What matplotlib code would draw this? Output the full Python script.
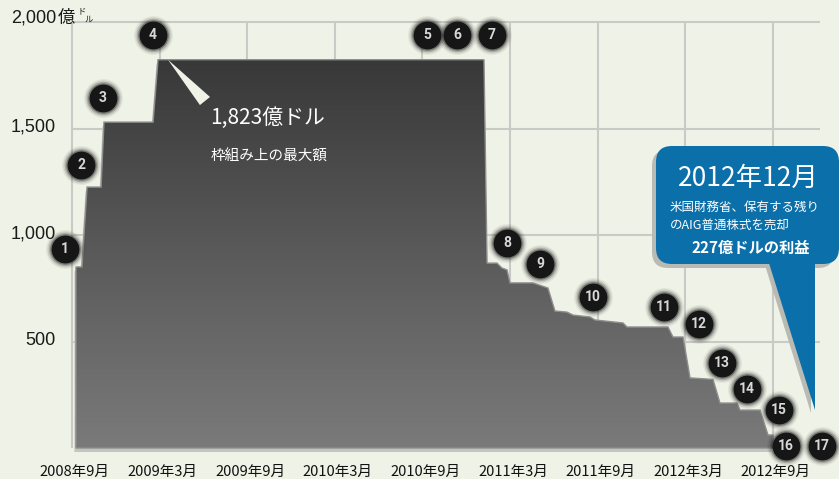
import numpy as np
import matplotlib
matplotlib.use('Agg')
import matplotlib.pyplot as plt
from matplotlib.patches import Polygon, FancyBboxPatch
from matplotlib.colors import LinearSegmentedColormap
import matplotlib.transforms as mtransforms

# ---------------- data (months since Sep 2008, values in 億ドル) ----------------
outline_months = [0.27, 0.27, 0.68, 1.03, 1.99, 2.19, 5.55, 5.89, 28.21, 28.42,
                  29.10, 29.44, 29.79, 29.99, 31.57, 32.59, 33.07, 33.89, 34.31,
                  35.47, 35.81, 37.73, 38.00, 40.81, 41.15, 41.84, 42.32, 43.89,
                  44.37, 45.54, 45.74, 47.11, 47.66, 48.00, 48.00]
outline_values = [0, 850, 850, 1225, 1225, 1530, 1530, 1823, 1823, 868,
                  868, 845, 836, 775, 775, 751, 643, 638, 624,
                  615, 601, 587, 568, 568, 521, 521, 329, 322,
                  211, 211, 178, 178, 61, 61, 0]
tick_months = [0, 6, 12, 18, 24, 30, 36, 42, 48]
tick_labels = ['2008年9月', '2009年3月', '2009年9月', '2010年3月', '2010年9月',
               '2011年3月', '2011年9月', '2012年3月', '2012年9月']
y_ticks = [500, 1000, 1500, 2000]
y_tick_labels = ['500', '1,000', '1,500', '2,000']
event_labels = [str(i) for i in range(1, 18)]
event_months = [-0.50, 0.62, 2.12, 5.54, 24.31, 26.36, 28.76, 29.78, 32.05,
                35.68, 40.54, 42.93, 44.51, 46.22, 48.41, 48.89, 51.36]
event_values = [934, 1329, 1643, 1939, 1939, 1939, 1939, 962, 864,
                709, 662, 582, 399, 277, 178, 10, 10]
peak_value = 1823

W, H = 839, 479
BG = '#eff2e6'
GRID = '#c9cac6'
BLUE = '#0b6fa9'
JP = ['Noto Sans CJK JP', 'DejaVu Sans']
NUM = ['Liberation Sans', 'Noto Sans CJK JP']

fig = plt.figure(figsize=(W / 100, H / 100), dpi=100, facecolor=BG)
ax = fig.add_axes([0, 0, 1, 1])
ax.set_facecolor(BG)
ppm = (773 - 72) / 48.0      # pixels per month
ppu = 0.213                   # pixels per 億ドル
ax.set_xlim(-72 / ppm, (W - 72) / ppm)
ax.set_ylim(-(H - 448) / ppu, 448 / ppu)
ax.axis('off')

# grid
for m in tick_months:
    ax.plot([m, m], [0, 2000], color=GRID, lw=1.5, zorder=1, solid_capstyle='butt')
for v in y_ticks:
    ax.plot([0, 51.2], [v, v], color=GRID, lw=1.5, zorder=1, solid_capstyle='butt')

# area shadow
pts = np.column_stack([outline_months, outline_values])
shadow_tr = mtransforms.offset_copy(ax.transData, fig=fig, x=-1.5, y=-4, units='dots')
ax.add_patch(Polygon(pts, closed=True, facecolor='#c4c5c0', edgecolor='none',
                     transform=shadow_tr, zorder=2))
# gradient area
poly = Polygon(pts, closed=True, facecolor='none', edgecolor='#8e8e8e', lw=1.0, zorder=4)
ax.add_patch(poly)
cmap = LinearSegmentedColormap.from_list('g', ['#7a7a7a', '#5a5a5a', '#383838'])
grad = np.linspace(0, 1, 256).reshape(-1, 1)
im = ax.imshow(grad, extent=[min(outline_months), max(outline_months), 0, peak_value],
               origin='lower', cmap=cmap, aspect='auto', zorder=3)
im.set_clip_path(poly)
ax.set_xlim(-72 / ppm, (W - 72) / ppm)
ax.set_ylim(-(H - 448) / ppu, 448 / ppu)

# wedge from the peak
ax.add_patch(Polygon([(6.57, peak_value), (9.45, 1648), (8.76, 1610)], closed=True,
                     facecolor=BG, edgecolor='none', zorder=5))
ax.text(9.45, 1549, '1,823億ドル', fontsize=15, color='white', family=JP,
        ha='left', va='center', zorder=6)
ax.text(9.50, 1366, '枠組み上の最大額', fontsize=10.5, color='white', family=JP,
        ha='left', va='center', zorder=6)

# y labels
xl = -1.1
for v, lab in zip(y_ticks, y_tick_labels):
    yy = v + (18 if v == 2000 else 5)
    ax.text(xl, yy, lab, fontsize=13, color='#1a1a1a', family=NUM,
            ha='right', va='center')
ax.text(-1.0, 2018, '億', fontsize=12.5, color='#1a1a1a', family=JP,
        ha='left', va='center')
ax.text(0.40, 2052, 'ド', fontsize=6, color='#1a1a1a', family=JP, ha='left', va='center')
ax.text(0.88, 2012, 'ル', fontsize=6, color='#1a1a1a', family=JP, ha='left', va='center')

# x labels
for m, lab in zip(tick_months, tick_labels):
    ax.text(m + 0.2, -113, lab, fontsize=10.5, color='#111111', family=JP,
            ha='center', va='center')

# event markers
for m, v, lab in zip(event_months, event_values, event_labels):
    for s, a in [(28, 0.06), (26, 0.1), (24, 0.18), (22, 0.35)]:
        ax.plot(m, v, 'o', ms=s, color='#111111', alpha=a, mec='none', zorder=7)
    ax.plot(m, v, 'o', ms=20, color='#161616', mec='none', zorder=8)
    ax.text(m, v, lab, fontsize=10, color='#d8d8d8', fontweight='bold',
            family=['Roboto', 'DejaVu Sans'], ha='center', va='center', zorder=9)

# callout bubble (pixel coordinates, origin at top-left)
T = mtransforms.Affine2D().scale(1 / W, -1 / H).translate(0, 1) + fig.transFigure
SH = '#b9bab4'
fig.add_artist(FancyBboxPatch((652, 150), 182, 118,
                              boxstyle='round,pad=0,rounding_size=16',
                              facecolor=SH, edgecolor='none', transform=T, zorder=10))
fig.add_artist(Polygon([(764, 262), (811, 262), (811, 413)], closed=True,
                       facecolor=SH, edgecolor='none', transform=T, zorder=10))
fig.add_artist(FancyBboxPatch((656, 146), 183, 118,
                              boxstyle='round,pad=0,rounding_size=16',
                              facecolor=BLUE, edgecolor='none', transform=T, zorder=11))
fig.add_artist(Polygon([(768, 260), (815, 260), (815, 410)], closed=True,
                       facecolor=BLUE, edgecolor='none', transform=T, zorder=11))
fig.text(748 / W, 1 - 178 / H, '2012年12月', fontsize=19, color='white', family=JP,
         ha='center', va='center', zorder=12)
fig.text(670 / W, 1 - 207 / H, '米国財務省、保有する残り', fontsize=9, color='white',
         family=JP, ha='left', va='center', zorder=12)
fig.text(670 / W, 1 - 225 / H, 'のAIG普通株式を売却', fontsize=9, color='white',
         family=JP, ha='left', va='center', zorder=12)
fig.text(751 / W, 1 - 248 / H, '227億ドルの利益', fontsize=11, color='white',
         family=JP, fontweight='bold', ha='center', va='center', zorder=12)

fig.savefig('out.png', dpi=100, facecolor=BG)
